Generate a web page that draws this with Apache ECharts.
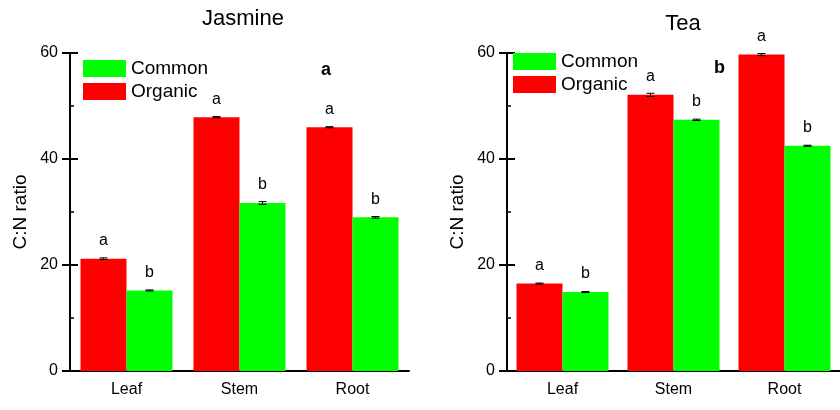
<!DOCTYPE html>
<html>
<head>
<meta charset="utf-8">
<script src="https://cdn.jsdelivr.net/npm/echarts@6/dist/echarts.min.js"></script>
<style>html,body{margin:0;padding:0;background:#fff}#c{width:840px;height:410px}</style>
</head>
<body>
<div id="c"></div>
<script>
var categories = ['Leaf', 'Stem', 'Root'];
var jasmineOrganic = [21.2, 47.9, 46.0];
var jasmineCommon = [15.2, 31.7, 29.0];
var jasmineOrganicErr = [0.15, 0.12, 0.1];
var jasmineCommonErr = [0.1, 0.25, 0.15];
var teaOrganic = [16.5, 52.1, 59.7];
var teaCommon = [14.9, 47.4, 42.5];
var teaOrganicErr = [0.1, 0.3, 0.2];
var teaCommonErr = [0.1, 0.12, 0.1];
var organicLetters = ['a', 'a', 'a'];
var commonLetters = ['b', 'b', 'b'];
var yTicks = [0, 20, 40, 60];

var FONT = 'Arial, "Liberation Sans", sans-serif';
var RED = '#ff0000', GREEN = '#00ff00';
var BAR_W = 46;

function mainX(gi) {
  return {type: 'category', gridIndex: gi, data: categories,
    axisLine: {lineStyle: {color: '#000', width: 2}},
    axisTick: {alignWithLabel: true, inside: false, length: 7, lineStyle: {color: '#000', width: 2}},
    axisLabel: {color: '#000', fontSize: 16, fontFamily: FONT, margin: 11},
    splitLine: {show: false}};
}
function innerX(gi) {
  return {type: 'category', gridIndex: gi, data: categories, position: 'bottom',
    axisLine: {show: false},
    axisTick: {alignWithLabel: true, inside: true, length: 7, lineStyle: {color: '#000', width: 2}},
    axisLabel: {show: false}, splitLine: {show: false}};
}
function mainY(gi) {
  return {type: 'value', gridIndex: gi, min: yTicks[0], max: yTicks[yTicks.length - 1], interval: 20,
    name: 'C:N ratio', nameLocation: 'middle', nameGap: 40,
    nameTextStyle: {color: '#000', fontSize: 19, fontFamily: FONT},
    axisLine: {show: true, lineStyle: {color: '#000', width: 2}},
    axisTick: {show: true, inside: false, length: 8, lineStyle: {color: '#000', width: 2}},
    axisLabel: {color: '#000', fontSize: 16, fontFamily: FONT, margin: 12},
    splitLine: {show: false}};
}
function innerY(gi) {
  return {type: 'value', gridIndex: gi, min: yTicks[0], max: yTicks[yTicks.length - 1], interval: 20,
    position: 'left',
    axisLine: {show: false},
    axisTick: {show: true, inside: true, length: 8, lineStyle: {color: '#000', width: 2}},
    minorTick: {show: true, splitNumber: 2, length: 4, lineStyle: {color: '#000', width: 1.5}},
    axisLabel: {show: false}, splitLine: {show: false}, minorSplitLine: {show: false}};
}
function barSeries(name, data, letters, color, xi, yi) {
  return {type: 'bar', name: name, xAxisIndex: xi, yAxisIndex: yi, data: data,
    barWidth: BAR_W, barGap: '0%', itemStyle: {color: color},
    label: {show: true, position: 'top', distance: 10, color: '#000', fontSize: 16, fontFamily: FONT,
      formatter: function (p) { return letters[p.dataIndex]; }},
    emphasis: {disabled: true}, z: 2};
}
function errSeries(values, errs, side, xi, yi) {
  var d = values.map(function (v, i) { return [i, v, errs[i]]; });
  return {type: 'custom', xAxisIndex: xi, yAxisIndex: yi, data: d, z: 5, silent: true,
    encode: {x: 0, y: 1},
    renderItem: function (params, api) {
      var i = api.value(0), v = api.value(1), e = api.value(2);
      var hi = api.coord([i, v + e]), lo = api.coord([i, v - e]);
      var cx = hi[0] + side * BAR_W / 2;
      var cap = 4;
      var st = {stroke: '#000', lineWidth: 1};
      return {type: 'group', children: [
        {type: 'line', shape: {x1: cx, y1: hi[1], x2: cx, y2: lo[1]}, style: st},
        {type: 'line', shape: {x1: cx - cap, y1: hi[1], x2: cx + cap, y2: hi[1]}, style: st},
        {type: 'line', shape: {x1: cx - cap, y1: lo[1], x2: cx + cap, y2: lo[1]}, style: st}
      ]};
    }};
}

var chart = echarts.init(document.getElementById('c'), null, {renderer: 'canvas'});
chart.setOption({
  animation: false,
  backgroundColor: '#fff',
  title: [
    {text: 'Jasmine', left: 238, top: 3, textAlign: 'center',
      textStyle: {color: '#000', fontSize: 22, fontWeight: 'normal', fontFamily: FONT}},
    {text: 'Tea', left: 678, top: 8, textAlign: 'center',
      textStyle: {color: '#000', fontSize: 22, fontWeight: 'normal', fontFamily: FONT}}
  ],
  legend: [
    {data: ['Common', 'Organic'], orient: 'vertical', left: 83, top: 59, padding: 0,
      itemWidth: 43, itemHeight: 17, itemGap: 4, icon: 'rect', selectedMode: false,
      textStyle: {color: '#000', fontSize: 19, fontFamily: FONT}},
    {data: ['Common', 'Organic'], orient: 'vertical', left: 513, top: 52, padding: 0,
      itemWidth: 43, itemHeight: 17, itemGap: 4, icon: 'rect', selectedMode: false,
      textStyle: {color: '#000', fontSize: 19, fontFamily: FONT}}
  ],
  graphic: [
    {type: 'text', left: 321, top: 61, style: {text: 'a', fill: '#000', font: 'bold 18px ' + FONT}},
    {type: 'text', left: 714, top: 59, style: {text: 'b', fill: '#000', font: 'bold 18px ' + FONT}}
  ],
  grid: [
    {left: 70, top: 53, width: 339, bottom: 39, containLabel: false},
    {left: 507, top: 53, width: 339, bottom: 39, containLabel: false}
  ],
  xAxis: [mainX(0), innerX(0), mainX(1), innerX(1)],
  yAxis: [mainY(0), innerY(0), mainY(1), innerY(1)],
  series: [
    barSeries('Organic', jasmineOrganic, organicLetters, RED, 0, 0),
    barSeries('Common', jasmineCommon, commonLetters, GREEN, 0, 0),
    errSeries(jasmineOrganic, jasmineOrganicErr, -1, 0, 0),
    errSeries(jasmineCommon, jasmineCommonErr, 1, 0, 0),
    barSeries('Organic', teaOrganic, organicLetters, RED, 2, 2),
    barSeries('Common', teaCommon, commonLetters, GREEN, 2, 2),
    errSeries(teaOrganic, teaOrganicErr, -1, 2, 2),
    errSeries(teaCommon, teaCommonErr, 1, 2, 2)
  ]
});
</script>
</body>
</html>
